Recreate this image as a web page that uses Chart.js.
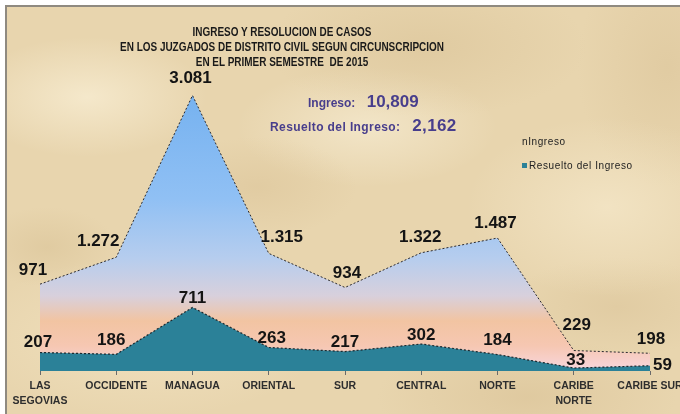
<!DOCTYPE html>
<html>
<head>
<meta charset="utf-8">
<script src="https://cdn.jsdelivr.net/npm/chart.js@4.4.1/dist/chart.umd.min.js"></script>
<style>
  html, body { margin: 0; padding: 0; background: #fff; }
  #wrap { position: relative; width: 680px; height: 414px; overflow: hidden; font-family: "Liberation Sans", Arial, sans-serif; }
  #paper {
    position: absolute; left: 5px; top: 5px; right: 0; bottom: 0;
    border-left: 2px solid #8f8a80; border-top: 2px solid #8f8a80;
    background-color: #e8d5ae;
    background-image:
      radial-gradient(ellipse 120px 60px at 80px 90px, rgba(250,240,215,0.7), transparent),
      radial-gradient(ellipse 160px 70px at 420px 40px, rgba(214,190,145,0.45), transparent),
      radial-gradient(ellipse 140px 90px at 600px 200px, rgba(248,236,208,0.6), transparent),
      radial-gradient(ellipse 100px 50px at 250px 180px, rgba(212,186,140,0.35), transparent),
      radial-gradient(ellipse 180px 80px at 140px 330px, rgba(246,232,200,0.6), transparent),
      radial-gradient(ellipse 150px 60px at 520px 390px, rgba(210,184,138,0.4), transparent),
      radial-gradient(ellipse 90px 120px at 660px 60px, rgba(216,192,148,0.45), transparent),
      radial-gradient(ellipse 130px 60px at 360px 120px, rgba(250,242,220,0.55), transparent),
      radial-gradient(ellipse 70px 40px at 40px 240px, rgba(212,188,142,0.4), transparent),
      radial-gradient(ellipse 110px 50px at 610px 300px, rgba(214,190,146,0.4), transparent);
  }
  canvas { position: absolute; left: 0; top: 0; }
  .title {
    position: absolute; left: 82px; top: 25px; width: 400px;
    text-align: center; font-weight: bold; font-size: 12px; line-height: 15px;
    color: #1a1a1a; transform: scaleX(0.83); transform-origin: 200px 0;
  }
  .sum { position: absolute; color: #483e8c; font-weight: bold; font-size: 12px; white-space: nowrap; }
  .sum b { font-size: 17px; margin-left: 8px; }
  .leg { position: absolute; left: 522px; font-size: 10px; color: #222; white-space: nowrap; letter-spacing: 0.6px; }
  .sq { display: inline-block; width: 5px; height: 5px; background: #2b8198; margin-right: 2px; vertical-align: 1px; }
</style>
</head>
<body>
<div id="wrap">
  <div id="paper"></div>
  <canvas id="chart" width="680" height="414"></canvas>
  <div class="title">INGRESO Y RESOLUCION DE CASOS<br>EN LOS JUZGADOS DE DISTRITO CIVIL SEGUN CIRCUNSCRIPCION<br>EN EL PRIMER SEMESTRE&nbsp; DE 2015</div>
  <div class="sum" id="sumIngreso" style="left:308px; top:92px;"></div>
  <div class="sum" id="sumResuelto" style="left:270px; top:116px; letter-spacing:0.4px;"></div>
  <div class="leg" style="top:136px;">nIngreso</div>
  <div class="leg" style="top:160px;"><span class="sq"></span>Resuelto del Ingreso</div>
</div>
<script>
"use strict";

// circunscripciones
const categories = [
  ['LAS', 'SEGOVIAS'], 'OCCIDENTE', 'MANAGUA', 'ORIENTAL', 'SUR',
  'CENTRAL', 'NORTE', ['CARIBE', 'NORTE'], 'CARIBE SUR'
];
const ingreso = [971, 1272, 3081, 1315, 934, 1322, 1487, 229, 198];
const resuelto = [207, 186, 711, 263, 217, 302, 184, 33, 59];

const total = arr => arr.reduce((a, b) => a + b, 0);
document.getElementById('sumIngreso').innerHTML = 'Ingreso: <b>' + total(ingreso).toLocaleString('en-US') + '</b>';
document.getElementById('sumResuelto').innerHTML = 'Resuelto del Ingreso: <b>' + total(resuelto).toLocaleString('en-US') + '</b>';

// label nudges (dx, dy from point), per series
const labelNudge = {
  ingreso: [[-7, -14], [-18, -16], [-2, -17], [13, -16], [2, -14], [-1, -15], [-2, -15], [3, -25], [1, -14]],
  resuelto: [[-2, -10], [-5, -14], [0, -9], [3, -9], [0, -9], [0, -9], [0, -14], [2, -8], [3, 0]]
};

function fmt(v) {
  return String(v).replace(/\B(?=(\d{3})+(?!\d))/g, '.');
}

const valueLabels = {
  id: 'valueLabels',
  afterDatasetsDraw(chart) {
    const ctx = chart.ctx;
    ctx.save();
    ctx.font = 'bold 17px "Liberation Sans", Arial, sans-serif';
    ctx.fillStyle = '#141414';
    ctx.textBaseline = 'middle';
    chart.data.datasets.forEach((ds, i) => {
      const meta = chart.getDatasetMeta(i);
      const nudge = labelNudge[ds.key];
      meta.data.forEach((pt, j) => {
        const [dx, dy] = nudge[j];
        ctx.textAlign = (ds.key === 'resuelto' && j === ds.data.length - 1) ? 'left' : 'center';
        ctx.fillText(fmt(ds.data[j]), pt.x + dx, pt.y + dy);
      });
    });
    ctx.restore();
  }
};

function skyGradient(context) {
  const chart = context.chart;
  const a = chart.chartArea;
  if (!a) return null;
  const g = chart.ctx.createLinearGradient(0, a.top, 0, a.bottom);
  g.addColorStop(0, '#70aef0');
  g.addColorStop(0.12, '#76b2f0');
  g.addColorStop(0.45, '#90c0f4');
  g.addColorStop(0.64, '#b6cdee');
  g.addColorStop(0.76, '#d8d0dc');
  g.addColorStop(0.84, '#f2c4a2');
  g.addColorStop(0.92, '#f6c7b2');
  g.addColorStop(1, '#f8d6de');
  return g;
}

const chart = new Chart(document.getElementById('chart'), {
  type: 'line',
  data: {
    labels: categories,
    datasets: [{
      key: 'resuelto',
      label: 'Resuelto del Ingreso',
      data: resuelto,
      fill: 'origin',
      backgroundColor: '#2b8198',
      borderColor: '#1d2a30',
      borderWidth: 1.2,
      borderDash: [2, 2],
      pointRadius: 0,
      tension: 0
    }, {
      key: 'ingreso',
      label: 'Ingreso',
      data: ingreso,
      fill: 'origin',
      backgroundColor: skyGradient,
      borderColor: '#2a2a30',
      borderWidth: 1,
      borderDash: [2, 2],
      pointRadius: 0,
      tension: 0
    }]
  },
  options: {
    responsive: false,
    animation: false,
    layout: { padding: { top: 58, left: 40, right: 30, bottom: 0 } },
    plugins: {
      legend: { display: false },
      title: { display: false },
      tooltip: { enabled: false }
    },
    scales: {
      x: {
        offset: false,
        border: { display: false },
        grid: { drawOnChartArea: false, color: '#6a6a6a', tickLength: 4 },
        ticks: {
          autoSkip: false,
          maxRotation: 0,
          padding: 4,
          color: '#2e2e2e',
          font: { family: '"Liberation Sans", Arial, sans-serif', size: 10.5, weight: 'bold', lineHeight: 1.42 }
        },
        afterFit(scale) {
          scale.height = 43;
          scale.paddingLeft = 0;
          scale.paddingRight = 0;
        }
      },
      y: {
        display: false,
        min: 0,
        max: 3500
      }
    }
  },
  plugins: [valueLabels]
});
</script>
</body>
</html>
